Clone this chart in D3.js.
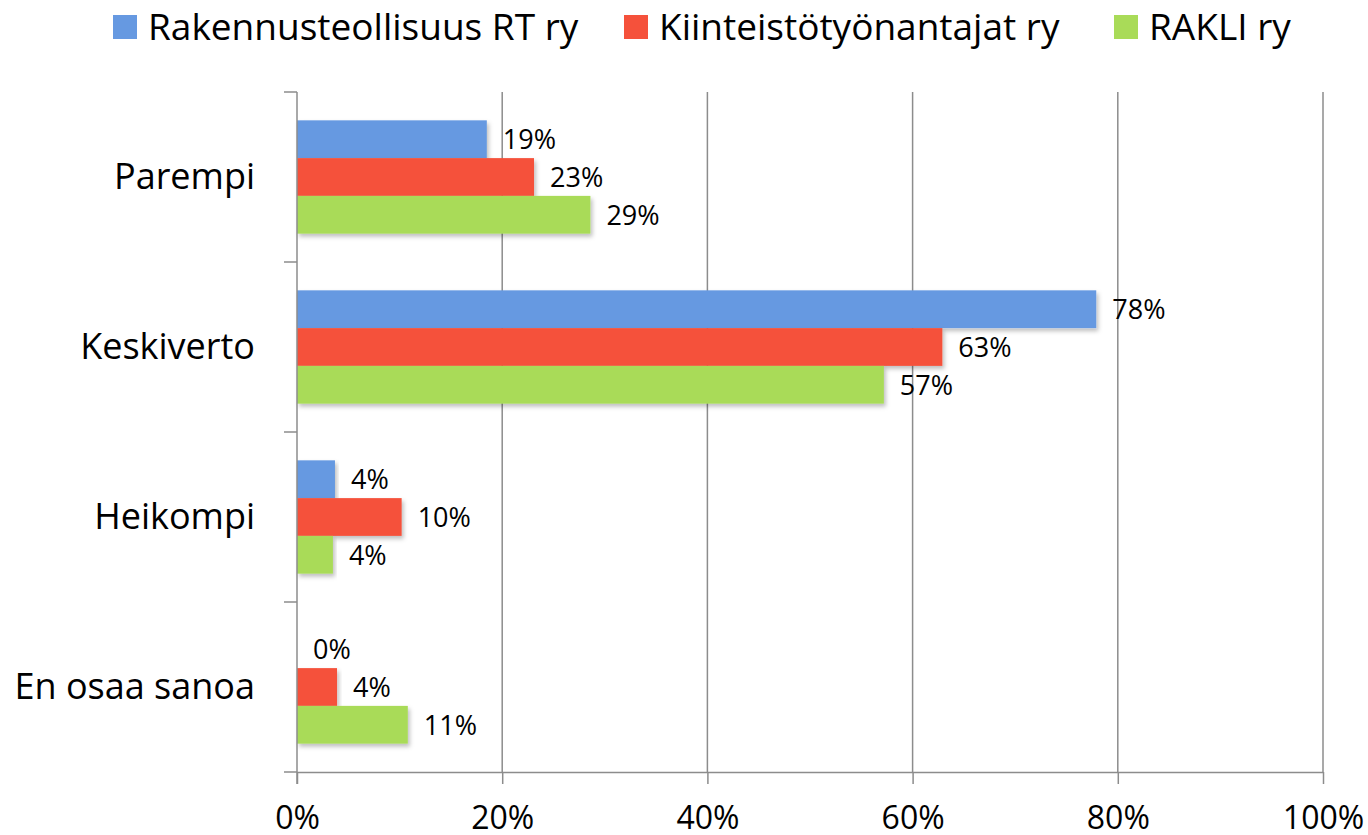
<!DOCTYPE html>
<html>
<head>
<meta charset="utf-8">
<script src="https://cdn.jsdelivr.net/npm/d3@7"></script>
<style>
  html, body { margin: 0; padding: 0; background: #fff; }
  svg { display: block; font-family: "Open Sans", Lato, sans-serif; }
</style>
</head>
<body>
<svg id="chart" width="1368" height="835"></svg>
<script>
// ---- data ----
const categories = ["Parempi", "Keskiverto", "Heikompi", "En osaa sanoa"];
const seriesNames = ["Rakennusteollisuus RT ry", "Kiinteistötyönantajat ry", "RAKLI ry"];
const seriesColors = ["#6699e1", "#f5513b", "#a9db58"];
const rtValues = [18.5, 77.9, 3.7, 0];
const kiinteistoValues = [23.1, 62.9, 10.2, 3.9];
const rakliValues = [28.6, 57.2, 3.5, 10.8];
const xTicks = [0, 20, 40, 60, 80, 100];

const seriesValues = [rtValues, kiinteistoValues, rakliValues];

const svg = d3.select("#chart");
const plotLeft = 297, plotRight = 1323, plotTop = 92, plotBottom = 772;
const fontFam = "'Open Sans', Lato, sans-serif";

const defs = svg.append("defs");
const f = defs.append("filter").attr("id", "shadow").attr("x", "-5%").attr("y", "-20%").attr("width", "115%").attr("height", "160%");
f.append("feDropShadow").attr("dx", 2).attr("dy", 3).attr("stdDeviation", 2).attr("flood-color", "#000").attr("flood-opacity", 0.25);

const x = d3.scaleLinear().domain([0, 100]).range([plotLeft, plotRight]);
const y = d3.scaleBand().domain(categories).range([plotTop, plotBottom]).padding(0);
const y1 = d3.scaleBand().domain(seriesNames).range([0, y.bandwidth()]).paddingInner(0).paddingOuter(0.75);

const gridColor = "#8c8c8c";

// vertical gridlines
svg.append("g").selectAll("line").data(xTicks.filter(t => t > 0)).join("line")
  .attr("x1", d => x(d)).attr("x2", d => x(d))
  .attr("y1", plotTop).attr("y2", plotBottom)
  .attr("stroke", gridColor).attr("stroke-width", 1.5);

// bars
const data = [];
categories.forEach((c, i) => seriesNames.forEach((s, j) => data.push({ cat: c, ser: s, j, v: seriesValues[j][i] })));

svg.append("g").selectAll("rect").data(data.filter(d => d.v > 0)).join("rect")
  .attr("x", x(0))
  .attr("y", d => y(d.cat) + y1(d.ser))
  .attr("width", d => x(d.v) - x(0))
  .attr("height", y1.bandwidth())
  .attr("fill", d => seriesColors[d.j])
  .attr("filter", "url(#shadow)");

// left axis (categories)
svg.append("line").attr("x1", plotLeft).attr("x2", plotLeft).attr("y1", plotTop).attr("y2", plotBottom + 12)
  .attr("stroke", gridColor).attr("stroke-width", 1.5);
const boundaries = categories.map(c => y(c)).concat([plotBottom]);
svg.append("g").selectAll("line").data(boundaries).join("line")
  .attr("x1", plotLeft - 13).attr("x2", plotLeft).attr("y1", d => d).attr("y2", d => d)
  .attr("stroke", gridColor).attr("stroke-width", 1.5);

svg.append("g").selectAll("text").data(categories).join("text")
  .attr("x", 255).attr("y", d => y(d) + y.bandwidth() / 2 + 12)
  .attr("text-anchor", "end").attr("font-size", 36).attr("fill", "#000")
  .text(d => d);

// bottom axis
const xAxis = d3.axisBottom(x).tickValues(xTicks).tickSize(12).tickFormat(d => d + "%");
const gx = svg.append("g").attr("transform", `translate(0,${plotBottom})`).call(xAxis);
gx.select(".domain").attr("stroke", gridColor).attr("stroke-width", 1.5).attr("d", `M${plotLeft},0.5H${plotRight}`);
gx.selectAll(".tick line").attr("stroke", gridColor).attr("stroke-width", 1.5);
gx.selectAll(".tick text").attr("font-size", 32).attr("font-family", fontFam)
  .attr("fill", "#000").attr("y", 0).attr("dy", 0).attr("transform", "translate(0,57)");

// data labels
svg.append("g").selectAll("text").data(data).join("text")
  .attr("x", d => x(d.v) + 16)
  .attr("y", d => y(d.cat) + y1(d.ser) + y1.bandwidth() / 2 + 10)
  .attr("font-size", 27).attr("fill", "#000")
  .text(d => Math.round(d.v) + "%");

// legend
const legendX = [113, 624, 1114];
const lg = svg.append("g").selectAll("g").data(seriesNames).join("g")
  .attr("transform", (d, i) => `translate(${legendX[i]},0)`);
lg.append("rect").attr("x", 0).attr("y", 15).attr("width", 24).attr("height", 24)
  .attr("fill", (d, i) => seriesColors[i]);
lg.append("text").attr("x", 35).attr("y", 40).attr("font-size", 37).attr("fill", "#000").text(d => d);
</script>
</body>
</html>
